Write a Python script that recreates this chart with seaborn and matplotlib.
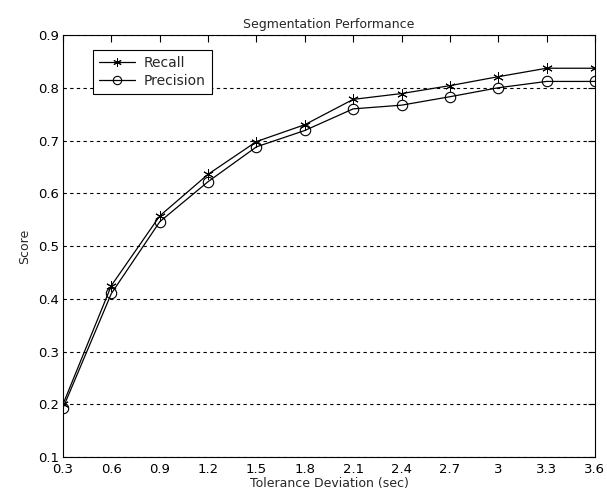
import matplotlib
matplotlib.use("Agg")
import matplotlib.pyplot as plt
import seaborn as sns
import pandas as pd

tolerance = [0.3, 0.6, 0.9, 1.2, 1.5, 1.8, 2.1, 2.4, 2.7, 3.0, 3.3, 3.6]
recall = [0.200, 0.425, 0.557, 0.636, 0.698, 0.730, 0.778, 0.789, 0.804, 0.821, 0.837, 0.837]
precision = [0.193, 0.410, 0.546, 0.622, 0.688, 0.719, 0.760, 0.767, 0.783, 0.800, 0.812, 0.812]
xticks = [0.3, 0.6, 0.9, 1.2, 1.5, 1.8, 2.1, 2.4, 2.7, 3, 3.3, 3.6]
xticklabels = ["0.3", "0.6", "0.9", "1.2", "1.5", "1.8", "2.1", "2.4", "2.7", "3", "3.3", "3.6"]
yticks = [0.1, 0.2, 0.3, 0.4, 0.5, 0.6, 0.7, 0.8, 0.9]

sns.set_style("white")
plt.rcParams['font.family'] = ['DejaVu Sans']

fig = plt.figure(figsize=(6.07, 4.98), dpi=100)
ax = fig.add_axes([0.1038, 0.0823, 0.8764, 0.8474])

df_r = pd.DataFrame({"x": tolerance, "y": recall})
df_p = pd.DataFrame({"x": tolerance, "y": precision})
sns.lineplot(data=df_r, x="x", y="y", ax=ax, color="black", lw=0.9,
             marker=(6, 2, 0), markersize=7.5, markeredgewidth=0.7,
             markeredgecolor="black", label="Recall")
sns.lineplot(data=df_p, x="x", y="y", ax=ax, color="black", lw=0.9,
             marker="o", markersize=7.5, markerfacecolor="none",
             markeredgecolor="black", markeredgewidth=0.8, label="Precision")

ax.set_xlim(0.3, 3.6)
ax.set_ylim(0.1, 0.9)
ax.set_xticks(xticks)
ax.set_xticklabels(xticklabels)
ax.set_yticks(yticks)
ax.set_yticklabels([f"{v:.1f}" for v in yticks])
ax.tick_params(direction="in", top=True, right=True, length=5, width=0.8,
               labelsize=9.5, colors="black")
ax.tick_params(axis="x", pad=4)
ax.tick_params(axis="y", pad=3)
for s in ax.spines.values():
    s.set_color("black")
    s.set_linewidth(0.8)
    s.set_visible(True)
ax.yaxis.grid(True, linestyle=(0, (3, 3)), color="black", linewidth=0.8)
ax.xaxis.grid(False)

ax.set_xlabel("Tolerance Deviation (sec)", fontsize=9, labelpad=1)
ax.set_ylabel("Score", fontsize=9, labelpad=5)
ax.set_title("Segmentation Performance", fontsize=9, pad=5)

leg = ax.legend(loc="upper left", bbox_to_anchor=(0.056, 0.965), fontsize=10,
                frameon=True, fancybox=False, edgecolor="black",
                framealpha=1, borderpad=0.45, handlelength=2.6,
                handletextpad=0.6, labelspacing=0.3, borderaxespad=0,
                markerscale=0.8)
leg.get_frame().set_linewidth(0.8)

fig.savefig("out.png", dpi=100)
